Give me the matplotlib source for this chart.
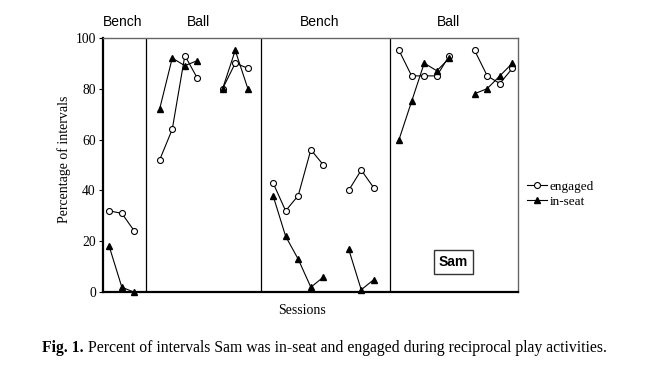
import matplotlib
matplotlib.use("Agg")
import matplotlib.pyplot as plt
import numpy as np

# ---- data ----
bench1_sessions = [1, 2, 3]
bench1_engaged = [32, 31, 24]
bench1_inseat = [18, 2, 0]

ball1a_sessions = [5, 6, 7, 8]
ball1a_engaged = [52, 64, 93, 84]
ball1a_inseat = [72, 92, 89, 91]

ball1b_sessions = [10, 11, 12]
ball1b_engaged = [80, 90, 88]
ball1b_inseat = [80, 95, 80]

bench2a_sessions = [14, 15, 16, 17, 18]
bench2a_engaged = [43, 32, 38, 56, 50]
bench2a_inseat = [38, 22, 13, 2, 6]

bench2b_sessions = [20, 21, 22]
bench2b_engaged = [40, 48, 41]
bench2b_inseat = [17, 1, 5]

ball2a_sessions = [24, 25, 26, 27, 28]
ball2a_engaged = [95, 85, 85, 85, 93]
ball2a_inseat = [60, 75, 90, 87, 92]

ball2b_sessions = [30, 31, 32, 33]
ball2b_engaged = [95, 85, 82, 88]
ball2b_inseat = [78, 80, 85, 90]

phase_labels = ["Bench", "Ball", "Bench", "Ball"]
phase_label_x = [2.1, 8.1, 17.7, 27.9]
phase_change_x = [3.9, 13.05, 23.25]
yticks = [0, 20, 40, 60, 80, 100]

segments = [
    (bench1_sessions, bench1_engaged, bench1_inseat),
    (ball1a_sessions, ball1a_engaged, ball1a_inseat),
    (ball1b_sessions, ball1b_engaged, ball1b_inseat),
    (bench2a_sessions, bench2a_engaged, bench2a_inseat),
    (bench2b_sessions, bench2b_engaged, bench2b_inseat),
    (ball2a_sessions, ball2a_engaged, ball2a_inseat),
    (ball2b_sessions, ball2b_engaged, ball2b_inseat),
]

serif = ["Liberation Serif", "DejaVu Serif"]
sans = ["Liberation Sans", "DejaVu Sans"]

fig = plt.figure(figsize=(6.6, 3.72), dpi=100)
ax = fig.add_axes([0.1556, 0.2142, 0.785 - 0.1556, 0.8987 - 0.2142])

for i, (s, e, ins) in enumerate(segments):
    ax.plot(s, e, color="black", lw=0.8, marker="o", ms=4.3,
            mfc="white", mec="black", mew=0.8,
            label="engaged" if i == 0 else None, zorder=3, clip_on=False)
    ax.plot(s, ins, color="black", lw=0.8, marker="^", ms=4.8,
            mfc="black", mec="black",
            label="in-seat" if i == 0 else None, zorder=3, clip_on=False)

for x in phase_change_x:
    ax.axvline(x, color="black", lw=0.9, zorder=1)

ax.set_xlim(0.48, 33.45)
ax.set_ylim(0, 100)
ax.set_yticks(yticks)
ax.set_yticklabels([str(t) for t in yticks], fontfamily=serif, fontsize=9.8)
ax.set_xticks([])
ax.tick_params(axis="y", direction="out", length=3, width=0.8, pad=2)

ax.spines["left"].set_linewidth(1.6)
ax.spines["bottom"].set_linewidth(1.6)
ax.spines["top"].set_color("#666666")
ax.spines["right"].set_color("#666666")
ax.spines["top"].set_linewidth(1.0)
ax.spines["right"].set_linewidth(1.0)

for lab, x in zip(phase_labels, phase_label_x):
    ax.text(x, 1.063, lab, transform=ax.get_xaxis_transform(),
            ha="center", va="center", fontfamily=sans, fontsize=10)

ax.text(28.3, 11.9, "Sam", ha="center", va="center", fontfamily=sans,
        fontsize=10, fontweight="bold",
        bbox=dict(boxstyle="square,pad=0.35", fc="white", ec="#333333", lw=1.0))

leg = fig.legend(loc="center left", bbox_to_anchor=(0.789, 0.478),
                 frameon=False, borderpad=0, handlelength=1.5,
                 handletextpad=0.2, labelspacing=0.2,
                 prop={"family": serif, "size": 9.5})

fig.text(64 / 660, 1 - 159 / 372, "Percentage of intervals", rotation=90,
         ha="center", va="center", fontfamily=serif, fontsize=10)
fig.text(302 / 660, 1 - 311 / 372, "Sessions", ha="center", va="center",
         fontfamily=serif, fontsize=10)

t1 = fig.text(42 / 660, 1 - 348 / 372, "Fig. 1.", ha="left", va="center",
              fontfamily=serif, fontsize=11.3, fontweight="bold")
fig.canvas.draw()
bb = t1.get_window_extent()
fig.text((bb.x1 + 4) / 660, 1 - 348 / 372,
         "Percent of intervals Sam was in-seat and engaged during reciprocal play activities.",
         ha="left", va="center", fontfamily=serif, fontsize=11.3)

fig.savefig("out.png", dpi=100)
